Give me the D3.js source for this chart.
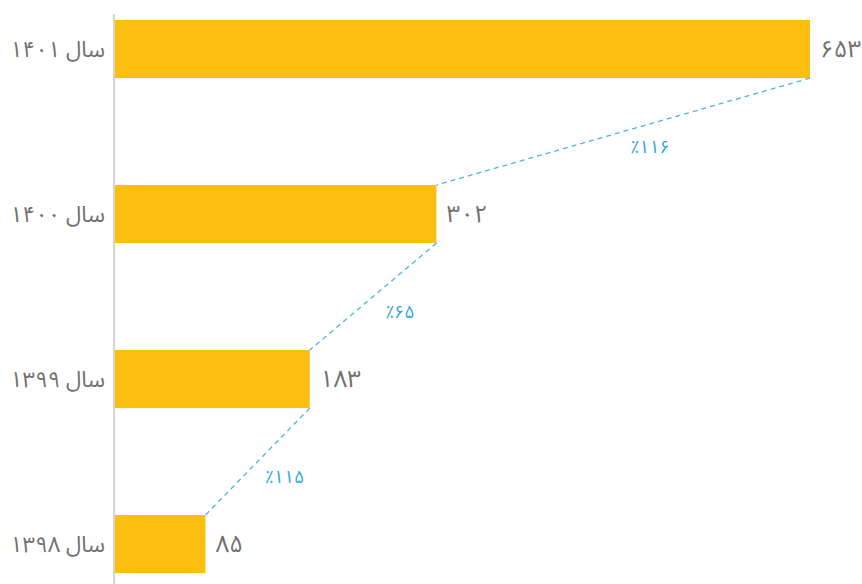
<!DOCTYPE html>
<html>
<head>
<meta charset="utf-8">
<script src="https://cdn.jsdelivr.net/npm/d3@7"></script>
<style>
  html, body { margin: 0; padding: 0; background: #ffffff; }
  svg { display: block; }
</style>
</head>
<body>
<svg id="chart" width="862" height="584"></svg>
<script>
// Years (top to bottom) and their values
const years = ["۱۴۰۱", "۱۴۰۰", "۱۳۹۹", "۱۳۹۸"];
const values = [653, 302, 183, 85];
const valueLabels = ["۶۵۳", "۳۰۲", "۱۸۳", "۸۵"];
// Growth between consecutive years (upper bar over the one below)
const growthLabels = ["٪۱۱۶", "٪۶۵", "٪۱۱۵"];

const svg = d3.select("#chart");
const W = 862, H = 584;

const x = d3.scaleLinear().domain([0, 653]).range([115, 810]);
const y = d3.scaleBand().domain(years).range([3.5, 589.6])
  .paddingInner(0.648).paddingOuter(0.1);

const font = "'Noto Sans Arabic', 'Noto Naskh Arabic', 'DejaVu Sans', sans-serif";

// Vertical baseline
svg.append("line")
  .attr("x1", 114).attr("x2", 114)
  .attr("y1", 14).attr("y2", H)
  .attr("stroke", "#d4d4d4").attr("stroke-width", 2);

// Bars
svg.selectAll("rect.bar").data(years).join("rect")
  .attr("class", "bar")
  .attr("x", x(0))
  .attr("y", d => y(d))
  .attr("width", (d, i) => x(values[i]) - x(0))
  .attr("height", y.bandwidth())
  .attr("fill", "#FDBE12");

// Year labels on the left
svg.selectAll("text.year").data(years).join("text")
  .attr("class", "year")
  .attr("x", 105)
  .attr("y", d => y(d) + y.bandwidth() / 2)
  .attr("dy", "0.35em")
  .attr("text-anchor", "end")
  .attr("font-family", font)
  .attr("font-size", 22)
  .attr("fill", "#707070")
  .text(d => "سال " + d);

// Value labels at bar ends
svg.selectAll("text.val").data(years).join("text")
  .attr("class", "val")
  .attr("x", (d, i) => x(values[i]) + 10)
  .attr("y", d => y(d) + y.bandwidth() / 2)
  .attr("dy", "0.35em")
  .attr("text-anchor", "start")
  .attr("font-family", font)
  .attr("font-size", 24)
  .attr("fill", "#707070")
  .text((d, i) => valueLabels[i]);

// Dashed connectors from each bar's lower-right corner to the next bar's upper-right corner
const links = d3.range(years.length - 1).map(i => ({
  x1: x(values[i]), y1: y(years[i]) + y.bandwidth(),
  x2: x(values[i + 1]), y2: y(years[i + 1]),
  label: growthLabels[i]
}));

svg.selectAll("line.link").data(links).join("line")
  .attr("class", "link")
  .attr("x1", d => d.x1).attr("y1", d => d.y1)
  .attr("x2", d => d.x2).attr("y2", d => d.y2)
  .attr("stroke", "#4FB3DA")
  .attr("stroke-width", 1.3)
  .attr("stroke-dasharray", "5,4");

svg.selectAll("text.growth").data(links).join("text")
  .attr("class", "growth")
  .attr("x", d => (d.x1 + d.x2) / 2 + 27)
  .attr("y", d => (d.y1 + d.y2) / 2 + 15)
  .attr("dy", "0.35em")
  .attr("text-anchor", "middle")
  .attr("direction", "ltr")
  .attr("font-family", font)
  .attr("font-size", 18)
  .attr("fill", "#33A6D8")
  .text(d => d.label);
</script>
</body>
</html>
